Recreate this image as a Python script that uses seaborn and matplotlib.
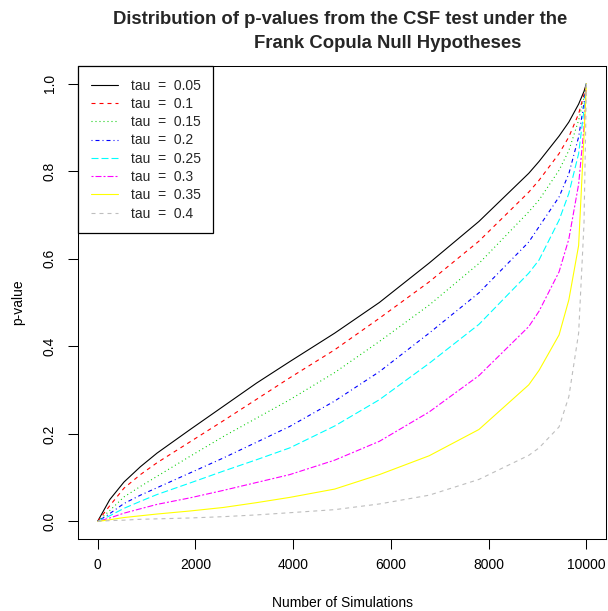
import matplotlib
matplotlib.use("Agg")
import matplotlib.pyplot as plt
import seaborn as sns
import pandas as pd

# ---- data ----
sims = [0, 250, 540, 876, 1215, 1894, 2573, 3252, 3931, 4850, 5764, 6782, 7800,
        8820, 9030, 9440, 9640, 9840, 9950, 10000]

tau_labels = ["tau  =  0.05", "tau  =  0.1", "tau  =  0.15", "tau  =  0.2",
              "tau  =  0.25", "tau  =  0.3", "tau  =  0.35", "tau  =  0.4"]

p_tau005 = [0, 0.050, 0.090, 0.125, 0.156, 0.210, 0.263, 0.316, 0.365, 0.430,
            0.500, 0.590, 0.685, 0.795, 0.822, 0.880, 0.912, 0.953, 0.982, 1.0]
p_tau010 = [0, 0.036, 0.076, 0.107, 0.134, 0.182, 0.230, 0.279, 0.328, 0.392,
            0.464, 0.547, 0.640, 0.752, 0.779, 0.840, 0.878, 0.931, 0.975, 1.0]
p_tau015 = [0, 0.025, 0.056, 0.080, 0.103, 0.149, 0.194, 0.236, 0.278, 0.340,
            0.411, 0.494, 0.589, 0.707, 0.734, 0.802, 0.847, 0.916, 0.968, 1.0]
p_tau020 = [0, 0.018, 0.041, 0.060, 0.077, 0.111, 0.145, 0.181, 0.217, 0.275,
            0.342, 0.430, 0.522, 0.638, 0.673, 0.741, 0.794, 0.878, 0.955, 1.0]
p_tau025 = [0, 0.013, 0.030, 0.046, 0.0615, 0.088, 0.115, 0.141, 0.168, 0.218,
            0.278, 0.361, 0.450, 0.567, 0.597, 0.688, 0.749, 0.840, 0.940, 1.0]
p_tau030 = [0, 0.008, 0.019, 0.029, 0.039, 0.054, 0.071, 0.089, 0.107, 0.140,
            0.183, 0.250, 0.333, 0.445, 0.480, 0.570, 0.645, 0.770, 0.900, 1.0]
p_tau035 = [0, 0.004, 0.009, 0.013, 0.017, 0.024, 0.032, 0.043, 0.055, 0.074,
            0.107, 0.150, 0.210, 0.312, 0.345, 0.426, 0.506, 0.630, 0.880, 1.0]
p_tau040 = [0, 0.002, 0.003, 0.005, 0.006, 0.008, 0.011, 0.015, 0.020, 0.027,
            0.040, 0.060, 0.096, 0.151, 0.168, 0.216, 0.285, 0.430, 0.680, 1.0]

series = [p_tau005, p_tau010, p_tau015, p_tau020,
          p_tau025, p_tau030, p_tau035, p_tau040]

x_ticks = [0, 2000, 4000, 6000, 8000, 10000]
y_ticks = [0.0, 0.2, 0.4, 0.6, 0.8, 1.0]
y_tick_labels = ["0.0", "0.2", "0.4", "0.6", "0.8", "1.0"]

title_line1 = "Distribution of p-values from the CSF test under the"
title_line2 = "Frank Copula Null Hypotheses"

# ---- styles (R base palette / lty) ----
colors = ["black", "red", "#00CD00", "blue", "cyan", "magenta", "yellow", "#BEBEBE"]
px = 0.72  # points per pixel at 100 dpi
styles = [
    "-",
    (0, (4 * px, 4 * px)),
    (0, (1 * px, 3 * px)),
    (0, (1 * px, 3 * px, 4 * px, 3 * px)),
    (0, (7 * px, 3 * px)),
    (0, (2 * px, 2 * px, 6 * px, 2 * px)),
    "-",
    (0, (4 * px, 4 * px)),
]

sns.set_style("white")
plt.rcParams["font.family"] = ["Liberation Sans", "DejaVu Sans"]
plt.rcParams["lines.scale_dashes"] = False

W, H = 608, 611
fig = plt.figure(figsize=(W / 100, H / 100), dpi=100)
L, R, T, B = 78, 606, 66, 539
ax = fig.add_axes([L / W, (H - B) / H, (R - L) / W, (B - T) / H])

rows = []
for lab, vals in zip(tau_labels, series):
    for s, v in zip(sims, vals):
        rows.append({"sim": s, "p": v, "tau": lab})
df = pd.DataFrame(rows)

for lab, col, ls in zip(tau_labels, colors, styles):
    sub = df[df["tau"] == lab]
    sns.lineplot(data=sub, x="sim", y="p", ax=ax, color=col, linewidth=0.8,
                 linestyle=ls, label=lab, errorbar=None)

ax.set_xlim(-400, 10400)
ax.set_ylim(-0.04, 1.04)
ax.set_xticks(x_ticks)
ax.set_xticklabels([str(t) for t in x_ticks])
ax.set_yticks(y_ticks)
ax.set_yticklabels(y_tick_labels, rotation=90, va="center")

ax.tick_params(axis="both", direction="out", length=7.2, width=0.75,
               colors="black", labelsize=10)
ax.tick_params(axis="x", pad=6.5, bottom=True)
ax.tick_params(axis="y", pad=8, left=True)

for sp in ax.spines.values():
    sp.set_visible(True)
    sp.set_color("black")
    sp.set_linewidth(0.75)

ax.set_xlabel("Number of Simulations", fontsize=10, color="black", va="center")
ax.set_ylabel("p-value", fontsize=10, color="black", va="center")
ax.xaxis.set_label_coords(0.5, (B - 603) / (B - T))
ax.yaxis.set_label_coords((18 - L) / (R - L), 0.5)

leg = ax.legend(loc="upper left", borderaxespad=0, fancybox=False,
                edgecolor="black", framealpha=1, fontsize=10,
                handlelength=2.0, handletextpad=0.9, borderpad=0.9,
                labelspacing=0.31)
leg.get_frame().set_linewidth(0.9)

fig.suptitle(title_line1, x=340 / W, y=1 - 20 / H, va="center", ha="center",
             fontsize=13.3, fontweight="bold")
fig.text(388 / W, 1 - 44 / H, title_line2, va="center", ha="center",
         fontsize=13.3, fontweight="bold")

fig.savefig("out.png", dpi=100, facecolor="white")
